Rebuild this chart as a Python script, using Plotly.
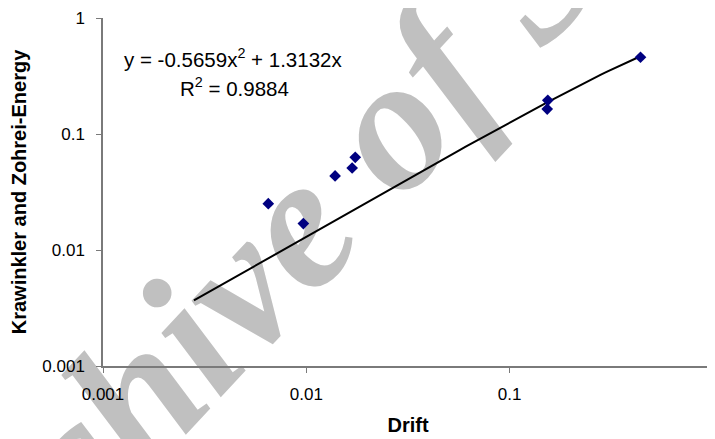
import numpy as np
import plotly.graph_objects as go

# Data
drift = [0.0065, 0.00967, 0.01385, 0.0168, 0.0174, 0.153, 0.154, 0.44]
energy = [0.0251, 0.0169, 0.0435, 0.0509, 0.063, 0.164, 0.195, 0.459]

# Polynomial trendline shown on chart: y = a*x^2 + b*x
coef_a = -0.5659
coef_b = 1.3132
trend_x_start = 0.0028
trend_x_end = 0.44

tick_vals = [0.001, 0.01, 0.1, 1]
tick_text = ["0.001", "0.01", "0.1", "1"]

trend_x = np.geomspace(trend_x_start, trend_x_end, 80)
trend_y = coef_a * trend_x ** 2 + coef_b * trend_x

fig = go.Figure()
fig.add_trace(go.Scatter(
    x=trend_x, y=trend_y, mode="lines",
    line=dict(color="black", width=2), showlegend=False, hoverinfo="skip"))
fig.add_trace(go.Scatter(
    x=drift, y=energy, mode="markers",
    marker=dict(symbol="diamond", size=9, color="#000080"),
    showlegend=False))

font_main = "Liberation Sans, Arial, sans-serif"

# The page body has an 8px default margin, so the figure is sized to fit the window.
fig.update_layout(
    width=707, height=431,
    margin=dict(l=95, r=2, t=10, b=73, autoexpand=False),
    paper_bgcolor="white", plot_bgcolor="rgba(0,0,0,0)",
    font=dict(family=font_main, color="black", size=17),
    xaxis=dict(
        type="log", range=[-3, 0], tickvals=tick_vals, ticktext=tick_text,
        showgrid=False, zeroline=False, showline=True, linecolor="#7a7a7a",
        linewidth=1.5, ticks="outside", ticklen=5, tickcolor="#7a7a7a",
        tickfont=dict(size=17), ticklabelstandoff=7, automargin=False,
        ticklabeloverflow="allow",
        title=dict(text="<b>Drift</b>", font=dict(size=20)),
    ),
    yaxis=dict(
        type="log", range=[-3, 0], tickvals=tick_vals, ticktext=tick_text,
        showgrid=False, zeroline=False, showline=True, linecolor="#7a7a7a",
        linewidth=1.5, ticks="outside", ticklen=5, tickcolor="#7a7a7a",
        tickfont=dict(size=17), ticklabelstandoff=8, automargin=False,
        ticklabeloverflow="allow",
        title=dict(text="<b>Krawinkler and Zohrei-Energy</b>", font=dict(size=20)),
    ),
    shapes=[dict(
        type="rect", xref="paper", yref="paper",
        x0=0.29, x1=0.33, y0=0.468, y1=0.508,
        line=dict(width=0), fillcolor="rgba(0,0,0,0)", layer="below",
        label=dict(text="Archive of SID", textangle=-47, textposition="middle center",
                   font=dict(family="Liberation Serif, Times New Roman, serif", size=190,
                             color="#c0c0c0", weight="bold", style="italic")),
    )],
    annotations=[
        dict(text="y = -0.5659x<sup>2</sup> + 1.3132x", xref="paper", yref="paper",
             x=(233 - 103) / 610, y=(366 - 58) / 348.3, xanchor="center", yanchor="middle",
             showarrow=False, font=dict(size=20.5)),
        dict(text="R<sup>2</sup> = 0.9884", xref="paper", yref="paper",
             x=(234 - 103) / 610, y=(366 - 87) / 348.3, xanchor="center", yanchor="middle",
             showarrow=False, font=dict(size=20.5)),
    ],
)

fig.write_html("out.html")
